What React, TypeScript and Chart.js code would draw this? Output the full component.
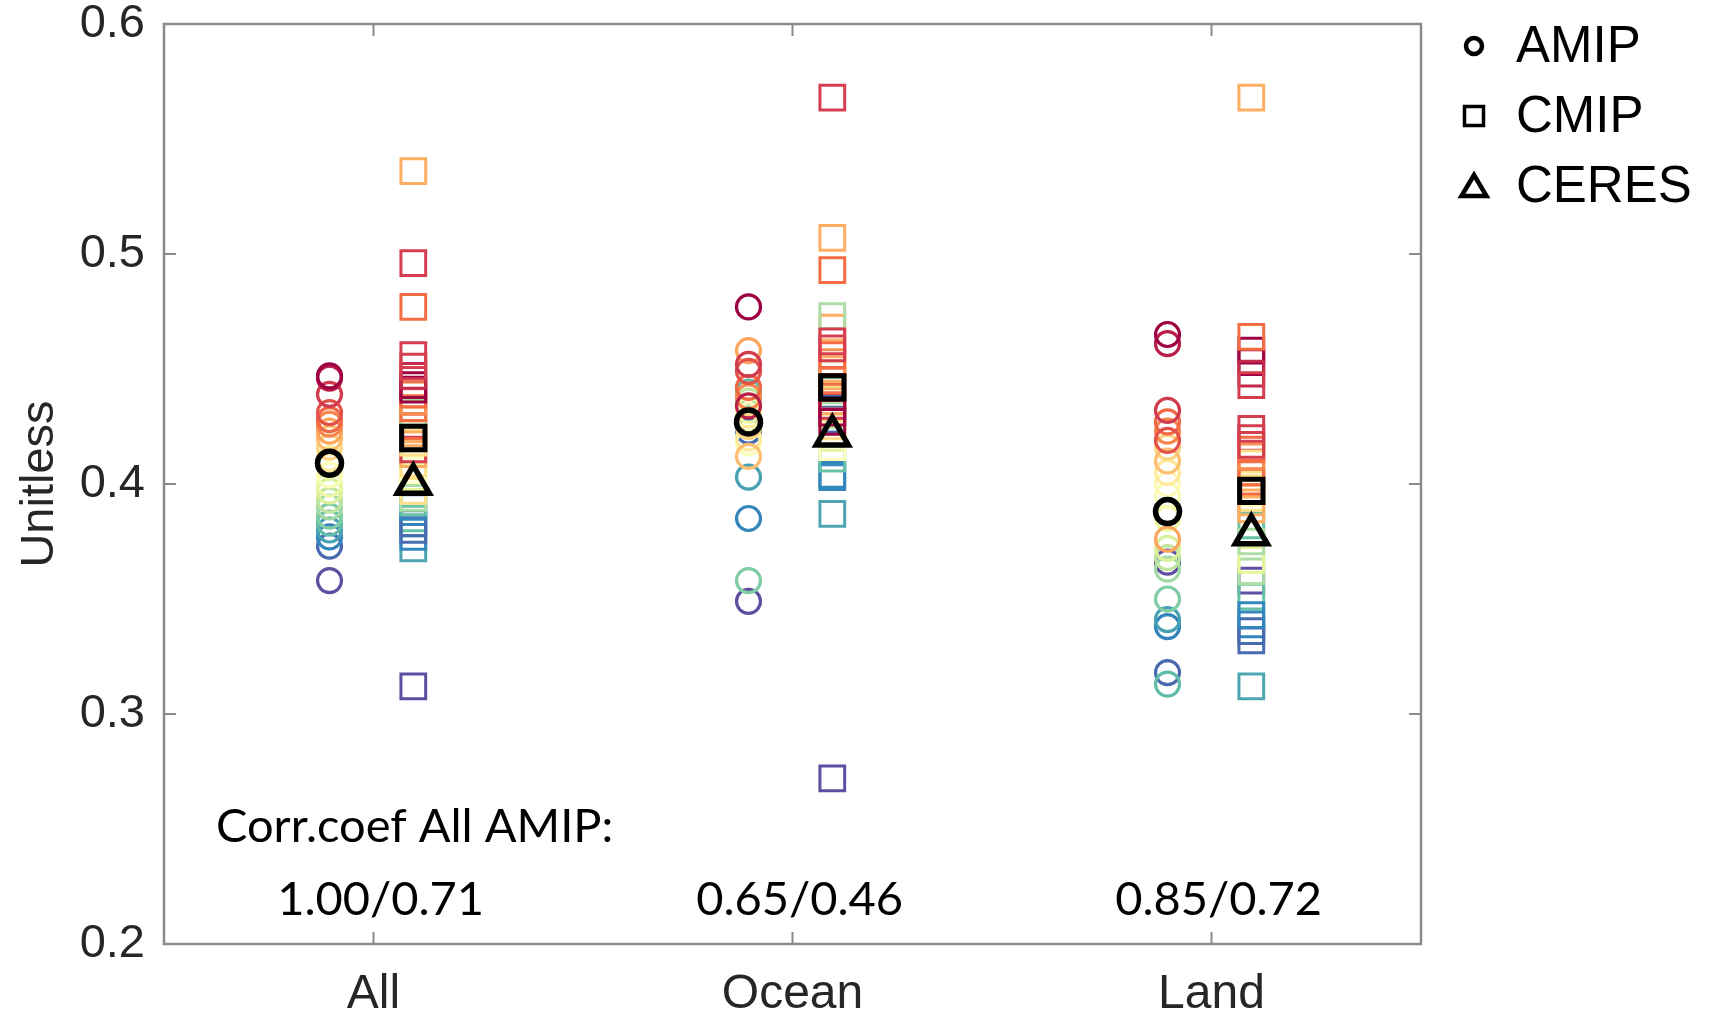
import React, { useEffect, useRef } from "react";
import { Chart, registerables } from "chart.js";

Chart.register(...registerables);

// ---- data -----------------------------------------------------------------
const categories = ["All", "Ocean", "Land"];
const yTicks = [0.2, 0.3, 0.4, 0.5, 0.6];

// AMIP models, ranked by their "All" value (colour follows the rank)
const amipAll = [0.447, 0.446, 0.439, 0.431, 0.428, 0.426, 0.423, 0.42, 0.416, 0.411, 0.408, 0.404, 0.4, 0.397, 0.393, 0.39, 0.386, 0.383, 0.38, 0.377, 0.373, 0.358];
const amipOcean = [0.477, 0.434, 0.452, 0.449, 0.442, 0.438, 0.458, 0.412, 0.425, 0.42, 0.43, 0.418, 0.432, 0.425, 0.436, 0.428, 0.358, 0.44, 0.403, 0.385, 0.423, 0.349];
const amipLand = [0.465, 0.461, 0.432, 0.419, 0.427, 0.423, 0.376, 0.41, 0.416, 0.405, 0.4, 0.395, 0.385, 0.372, 0.368, 0.363, 0.35, 0.313, 0.341, 0.338, 0.318, 0.366];

// CMIP models
const cmipAll = [0.536, 0.496, 0.477, 0.456, 0.451, 0.447, 0.443, 0.441, 0.439, 0.436, 0.433, 0.431, 0.428, 0.425, 0.422, 0.418, 0.415, 0.413, 0.409, 0.406, 0.403, 0.397, 0.394, 0.392, 0.39, 0.383, 0.38, 0.377, 0.372, 0.385, 0.312];
const cmipOcean = [0.507, 0.568, 0.493, 0.462, 0.459, 0.442, 0.431, 0.427, 0.456, 0.453, 0.445, 0.473, 0.468, 0.438, 0.45, 0.448, 0.434, 0.436, 0.425, 0.416, 0.42, 0.422, 0.43, 0.411, 0.404, 0.433, 0.428, 0.403, 0.387, 0.441, 0.272];
const cmipLand = [0.568, 0.443, 0.464, 0.424, 0.417, 0.448, 0.458, 0.453, 0.415, 0.412, 0.405, 0.375, 0.392, 0.401, 0.389, 0.409, 0.42, 0.405, 0.4, 0.396, 0.367, 0.394, 0.362, 0.382, 0.343, 0.336, 0.332, 0.339, 0.312, 0.351, 0.358];
const cmipColors = ["#fdae61", "#d53e4f", "#f46d43", "#d53e4f", "#d53e4f", "#c2294a", "#9e0142", "#9e0142", "#f46d43", "#f88d52", "#f46d43", "#abdda4", "#fdae61", "#f46d43", "#fdae61", "#fee08b", "#d53e4f", "#fdae61", "#fee08b", "#ffffbf", "#e6f598", "#fee08b", "#abdda4", "#66c2a5", "#3288bd", "#486cb0", "#486cb0", "#3288bd", "#4ca5b1", "#66c2a5", "#5e4fa2"];

// ensemble means and observations, per category
const amipMean = [0.409, 0.427, 0.388];
const cmipMean = [0.42, 0.442, 0.397];
const ceres = [0.4, 0.421, 0.378];

const corrTitle = "Corr.coef All AMIP:";
const corrLabels = ["1.00/0.71", "0.65/0.46", "0.85/0.72"];
const legendLabels = ["AMIP", "CMIP", "CERES"];

// ---- styling --------------------------------------------------------------
const spectral = ["#9e0142", "#d53e4f", "#f46d43", "#fdae61", "#fee08b", "#ffffbf", "#e6f598", "#abdda4", "#66c2a5", "#3288bd", "#5e4fa2"];
const AXIS_FONT = "'Liberation Sans', Arial, sans-serif";
const NOTE_FONT = "Lato, 'Open Sans', sans-serif";
const AXIS_COLOR = "#8a8a8a";
const LABEL_COLOR = "#262626";
const AMIP_OFFSET = -0.105;
const CMIP_OFFSET = 0.095;

function hexToRgb(h: string) {
  const n = parseInt(h.slice(1), 16);
  return [(n >> 16) & 255, (n >> 8) & 255, n & 255];
}

function spectralAt(t: number) {
  const p = Math.max(0, Math.min(1, t)) * (spectral.length - 1);
  const i = Math.min(spectral.length - 2, Math.floor(p));
  const f = p - i;
  const a = hexToRgb(spectral[i]);
  const b = hexToRgb(spectral[i + 1]);
  const c = a.map((v, k) => Math.round(v + (b[k] - v) * f));
  return `rgb(${c[0]},${c[1]},${c[2]})`;
}

const amipByRegion = [amipAll, amipOcean, amipLand];
const cmipByRegion = [cmipAll, cmipOcean, cmipLand];

// models are painted last-to-first so the warm (top-ranked) ones sit on top
type Pt = { x: number; y: number };
function buildColumn(regions: number[][], offset: number, colorOf: (i: number, n: number) => string) {
  const points: Pt[] = [];
  const colors: string[] = [];
  regions.forEach((vals, c) => {
    for (let i = vals.length - 1; i >= 0; i--) {
      points.push({ x: c + 1 + offset, y: vals[i] });
      colors.push(colorOf(i, vals.length));
    }
  });
  return { points, colors };
}

const amipCol = buildColumn(amipByRegion, AMIP_OFFSET, (i, n) => spectralAt(i / (n - 1)));
const cmipCol = buildColumn(cmipByRegion, CMIP_OFFSET, (i) => cmipColors[i]);

function drawMarker(ctx: CanvasRenderingContext2D, kind: string, x: number, y: number) {
  ctx.beginPath();
  if (kind === "circle") {
    ctx.lineWidth = 4.5;
    ctx.arc(x, y, 8, 0, Math.PI * 2);
  } else if (kind === "rect") {
    ctx.lineWidth = 3.5;
    ctx.rect(x - 9.5, y - 9.5, 19, 19);
  } else {
    ctx.lineWidth = 4.5;
    ctx.moveTo(x, y - 11);
    ctx.lineTo(x + 12.5, y + 10);
    ctx.lineTo(x - 12.5, y + 10);
    ctx.closePath();
  }
  ctx.stroke();
}

const framePlugin = {
  id: "frame",
  afterDraw(chart: any) {
    const { ctx, chartArea: a, scales } = chart;
    const xs = scales.x;
    const ys = scales.y;
    ctx.save();

    // axes box and inward ticks
    ctx.strokeStyle = AXIS_COLOR;
    ctx.lineWidth = 2.5;
    ctx.strokeRect(a.left, a.top, a.right - a.left, a.bottom - a.top);
    ctx.lineWidth = 2;
    ctx.beginPath();
    yTicks.forEach((v) => {
      const py = ys.getPixelForValue(v);
      ctx.moveTo(a.left, py);
      ctx.lineTo(a.left + 12, py);
      ctx.moveTo(a.right, py);
      ctx.lineTo(a.right - 12, py);
    });
    categories.forEach((_, i) => {
      const px = xs.getPixelForValue(i + 1);
      ctx.moveTo(px, a.bottom);
      ctx.lineTo(px, a.bottom - 12);
      ctx.moveTo(px, a.top);
      ctx.lineTo(px, a.top + 12);
    });
    ctx.stroke();

    // correlation notes
    ctx.fillStyle = "#000";
    ctx.font = `47px ${NOTE_FONT}`;
    ctx.textBaseline = "middle";
    ctx.textAlign = "left";
    ctx.fillText(corrTitle, xs.getPixelForValue(0.624), ys.getPixelForValue(0.251));
    ctx.textAlign = "center";
    corrLabels.forEach((t, i) => {
      ctx.fillText(t, xs.getPixelForValue(i + 1.017), ys.getPixelForValue(0.219));
    });

    // legend
    const kinds = ["circle", "rect", "triangle"];
    const rows = [46, 116, 186];
    ctx.strokeStyle = "#000";
    ctx.lineJoin = "miter";
    ctx.font = `51px ${AXIS_FONT}`;
    ctx.textAlign = "left";
    legendLabels.forEach((t, i) => {
      drawMarker(ctx, kinds[i], a.right + 53, rows[i]);
      ctx.fillText(t, a.right + 95, rows[i] + 2);
    });
    ctx.restore();
  },
};

export default function App() {
  const ref = useRef<HTMLCanvasElement | null>(null);

  useEffect(() => {
    if (!ref.current) return;
    Chart.defaults.font.family = AXIS_FONT;
    const chart = new Chart(ref.current, {
      type: "scatter",
      data: {
        datasets: [
          {
            label: "CERES",
            data: ceres.map((v, c) => ({ x: c + 1 + CMIP_OFFSET, y: v })),
            pointStyle: "triangle",
            pointRadius: 18.5,
            pointBorderWidth: 5.5,
            pointBorderColor: "#000",
            pointBackgroundColor: "rgba(0,0,0,0)",
          },
          {
            label: "CMIP mean",
            data: cmipMean.map((v, c) => ({ x: c + 1 + CMIP_OFFSET, y: v })),
            pointStyle: "rect",
            pointRadius: 16.5,
            pointBorderWidth: 5,
            pointBorderColor: "#000",
            pointBackgroundColor: "rgba(0,0,0,0)",
          },
          {
            label: "AMIP mean",
            data: amipMean.map((v, c) => ({ x: c + 1 + AMIP_OFFSET, y: v })),
            pointStyle: "circle",
            pointRadius: 12,
            pointBorderWidth: 5.5,
            pointBorderColor: "#000",
            pointBackgroundColor: "rgba(0,0,0,0)",
          },
          {
            label: "CMIP",
            data: cmipCol.points,
            pointStyle: "rect",
            pointRadius: 17.5,
            pointBorderWidth: 3,
            pointBorderColor: cmipCol.colors,
            pointBackgroundColor: "rgba(0,0,0,0)",
          },
          {
            label: "AMIP",
            data: amipCol.points,
            pointStyle: "circle",
            pointRadius: 12,
            pointBorderWidth: 3.2,
            pointBorderColor: amipCol.colors,
            pointBackgroundColor: "rgba(0,0,0,0)",
          },
        ],
      },
      options: {
        animation: false,
        responsive: false,
        events: [],
        layout: { padding: { top: 24, right: 292, left: 0, bottom: 0 } },
        plugins: { legend: { display: false }, tooltip: { enabled: false } },
        scales: {
          x: {
            type: "linear",
            min: 0.5,
            max: 3.5,
            afterBuildTicks: (s: any) => {
              s.ticks = categories.map((_, i) => ({ value: i + 1 }));
            },
            afterFit: (s: any) => {
              s.height = 72;
              s.paddingLeft = 0;
              s.paddingRight = 0;
            },
            grid: { display: false, drawTicks: false },
            border: { display: false },
            ticks: {
              callback: (v: any) => categories[Math.round(Number(v)) - 1] ?? "",
              font: { size: 48, family: AXIS_FONT },
              color: LABEL_COLOR,
              padding: 22,
              maxRotation: 0,
              autoSkip: false,
            },
          },
          y: {
            type: "linear",
            min: 0.2,
            max: 0.6,
            afterBuildTicks: (s: any) => {
              s.ticks = yTicks.map((v) => ({ value: v }));
            },
            afterFit: (s: any) => {
              s.width = 164;
              s.paddingTop = 0;
              s.paddingBottom = 0;
            },
            grid: { display: false, drawTicks: false },
            border: { display: false },
            ticks: {
              callback: (v: any) => Number(v).toFixed(1),
              font: { size: 47, family: AXIS_FONT },
              color: LABEL_COLOR,
              padding: 19,
              autoSkip: false,
            },
            title: {
              display: true,
              text: "Unitless",
              font: { size: 47, family: AXIS_FONT },
              color: LABEL_COLOR,
              padding: { top: 12, bottom: 0 },
            },
          },
        },
      },
      plugins: [framePlugin],
    });
    return () => chart.destroy();
  }, []);

  return (
    <div style={{ position: "fixed", left: 0, top: 0, width: 1713, height: 1016, background: "#fff" }}>
      <canvas ref={ref} width={1713} height={1016} />
    </div>
  );
}
